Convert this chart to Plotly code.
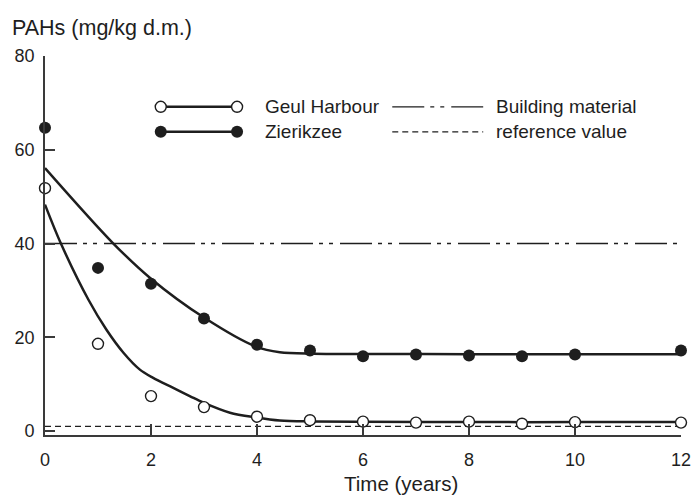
import plotly.graph_objects as go

# Measured PAH concentrations (mg/kg d.m.) per year
years = [0, 1, 2, 3, 4, 5, 6, 7, 8, 9, 10, 12]
geul_harbour = [51.8, 18.6, 7.45, 5.1, 3.05, 2.3, 2.0, 1.8, 2.0, 1.55, 1.9, 1.8]
zierikzee = [64.7, 34.8, 31.4, 24.0, 18.4, 17.2, 15.95, 16.3, 16.1, 15.95, 16.3, 17.2]

# Fitted decline curves
geul_fit_x = [0, 0.30, 0.82, 1.16, 1.48, 1.79, 2.04, 2.42, 2.74, 3.0, 3.49, 3.98, 4.43, 5.06, 6, 8, 10, 12]
geul_fit_y = [48.3, 40.0, 28.0, 21.6, 16.7, 13.1, 11.35, 9.2, 7.4, 6.0, 3.9, 2.9, 2.25, 2.05, 1.95, 1.9, 1.9, 1.9]
zier_fit_x = [0, 1.29, 2, 3, 3.98, 4.43, 5.06, 6, 8, 10, 12]
zier_fit_y = [56.1, 40.0, 32.5, 24.2, 18.0, 16.8, 16.5, 16.45, 16.4, 16.4, 16.35]

# Limit values
building_material = 40
reference_value = 1.0

x_ticks = [0, 2, 4, 6, 8, 10, 12]
y_ticks = [0, 20, 40, 60, 80]

INK = "#1e1e1e"
AXIS = "#3a3a3a"
FONT = "Liberation Sans, Arial, sans-serif"
DASHDOT = "32px,6px,4px,6px,4px,7px"
DASHED = "6px,4px"

fig = go.Figure()

# Horizontal limit lines across the full time span
fig.add_trace(go.Scatter(x=[x_ticks[0], x_ticks[-1]], y=[building_material] * 2, mode="lines",
                         line=dict(color=INK, width=1.3, dash=DASHDOT), hoverinfo="skip"))
fig.add_trace(go.Scatter(x=[x_ticks[0], x_ticks[-1]], y=[reference_value] * 2, mode="lines",
                         line=dict(color=INK, width=1.3, dash=DASHED), hoverinfo="skip"))

# Fitted curves
for fx, fy in [(geul_fit_x, geul_fit_y), (zier_fit_x, zier_fit_y)]:
    fig.add_trace(go.Scatter(x=fx, y=fy, mode="lines",
                             line=dict(color=INK, width=2.5, shape="spline", smoothing=0.9),
                             hoverinfo="skip", cliponaxis=False))

# Measurements
fig.add_trace(go.Scatter(x=years, y=geul_harbour, mode="markers", name="Geul Harbour",
                         marker=dict(symbol="circle", size=11, color="white",
                                     line=dict(color=INK, width=1.4)),
                         cliponaxis=False))
fig.add_trace(go.Scatter(x=years, y=zierikzee, mode="markers", name="Zierikzee",
                         marker=dict(symbol="circle", size=12, color=INK,
                                     line=dict(color=INK, width=0)),
                         cliponaxis=False))

# Hand-drawn key on an overlay axis in plot-fraction units
key_rows = [0.866, 0.800]
key_left, key_right = 0.182, 0.302
key2_left, key2_right = 0.546, 0.689
fig.add_trace(go.Scatter(x=[key_left, key_right], y=[key_rows[0]] * 2, mode="lines+markers",
                         xaxis="x2", yaxis="y2", cliponaxis=False,
                         line=dict(color=INK, width=2.5),
                         marker=dict(size=11, color="white", line=dict(color=INK, width=1.4))))
fig.add_trace(go.Scatter(x=[key_left, key_right], y=[key_rows[1]] * 2, mode="lines+markers",
                         xaxis="x2", yaxis="y2", cliponaxis=False,
                         line=dict(color=INK, width=2.5),
                         marker=dict(size=12, color=INK)))
fig.add_trace(go.Scatter(x=[key2_left, key2_right], y=[key_rows[0]] * 2, mode="lines",
                         xaxis="x2", yaxis="y2", cliponaxis=False,
                         line=dict(color=INK, width=1.3, dash=DASHDOT)))
fig.add_trace(go.Scatter(x=[key2_left, key2_right], y=[key_rows[1]] * 2, mode="lines",
                         xaxis="x2", yaxis="y2", cliponaxis=False,
                         line=dict(color=INK, width=1.3, dash=DASHED)))

key_labels = [("Geul Harbour", 0.343, key_rows[0]), ("Zierikzee", 0.343, key_rows[1]),
              ("Building material", 0.706, key_rows[0]), ("reference value", 0.706, key_rows[1])]
annotations = [dict(text=t, x=x, y=y, xref="paper", yref="paper", xanchor="left", yanchor="middle",
                    showarrow=False, font=dict(size=19, color=INK, family=FONT))
               for t, x, y in key_labels]
annotations.append(dict(text="PAHs (mg/kg d.m.)", x=-0.055, y=1.075, xref="paper", yref="paper",
                        xanchor="left", yanchor="middle", showarrow=False,
                        font=dict(size=21.5, color=INK, family=FONT)))
annotations.append(dict(text="Time (years)", x=0.560, y=-0.128, xref="paper", yref="paper",
                        xanchor="center", yanchor="middle", showarrow=False,
                        font=dict(size=20.5, color=INK, family=FONT)))

fig.update_layout(
    width=693, height=495,
    margin=dict(l=45, r=12, t=56, b=59.5, autoexpand=False),
    paper_bgcolor="white", plot_bgcolor="white",
    showlegend=False,
    font=dict(family=FONT, size=18, color=INK),
    annotations=annotations,
    xaxis=dict(range=[0, 12], tickvals=x_ticks, ticks="inside", ticklen=11, tickwidth=1.5,
               tickcolor=AXIS, showline=True, linecolor=AXIS, linewidth=1.7,
               showgrid=False, zeroline=False, ticklabelstandoff=8, automargin=False,
               tickfont=dict(size=18, color=INK, family=FONT)),
    yaxis=dict(range=[-0.85, 80], tickvals=y_ticks, ticks="inside", ticklen=10, tickwidth=1.5,
               tickcolor=AXIS, showline=True, linecolor=AXIS, linewidth=1.7,
               showgrid=False, zeroline=False, ticklabelstandoff=5, automargin=False,
               tickfont=dict(size=18, color=INK, family=FONT)),
    xaxis2=dict(range=[0, 1], overlaying="x", visible=False, fixedrange=True),
    yaxis2=dict(range=[0, 1], overlaying="y", visible=False, fixedrange=True),
)

fig.write_html("out.html")
